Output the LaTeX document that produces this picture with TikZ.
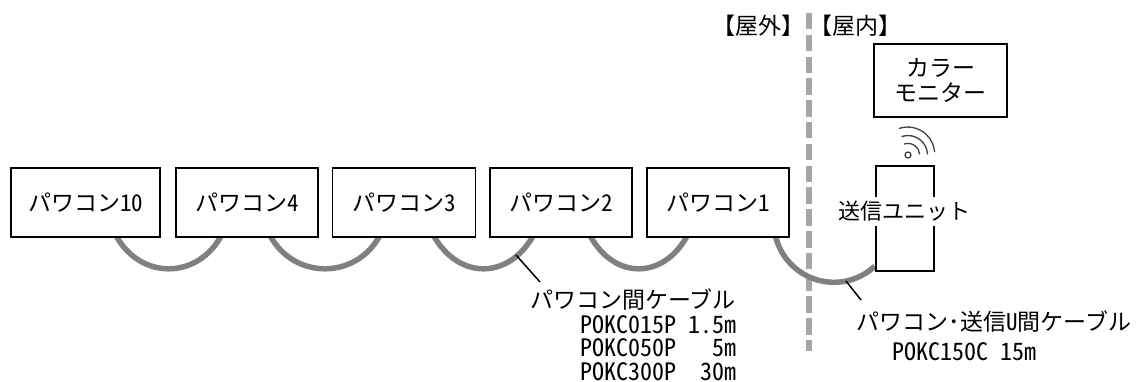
\documentclass[tikz,border=0pt]{standalone}
\usepackage{fontspec}
\setmainfont{Noto Sans CJK JP}[RawFeature={+hwid}]
\usetikzlibrary{calc,backgrounds}
\newcommand\hs{\hspace*{.5em}}
\newcommand\boxlbl[1]{\raisebox{1.5pt}{#1}}
\tikzset{
  x=1pt,y=-1pt,
  unitbox/.style={draw=black,line width=1.6pt,fill=white,inner sep=0pt,font=\fontsize{23}{25}\selectfont,align=center},
  cable/.style={draw=black!50,line width=5.5pt},
  leader/.style={draw=black,line width=1.5pt},
  boundary/.style={draw=black!35,line width=6pt,dash pattern=on 16.5pt off 5.3pt},
  jtext/.style={inner sep=0pt,font=\fontsize{23}{25}\selectfont,align=center},
  model/.style={inner sep=0pt,font=\fontsize{24}{23.5}\selectfont,align=left},
  wave/.style={draw=black!75,line width=1.3pt,line cap=round},
}
\begin{document}
\begin{tikzpicture}
\useasboundingbox (0,0) rectangle (1140,382);
\node[unitbox,minimum width=149pt,minimum height=69pt] (p10) at (85.5,202.5) {\boxlbl{パワコン10}};
\node[unitbox,minimum width=142pt,minimum height=69pt] (p4) at (247,202.5) {\boxlbl{パワコン4}};
\node[unitbox,minimum width=143pt,minimum height=69pt] (p3) at (404,202.5) {\boxlbl{パワコン3}};
\node[unitbox,minimum width=142pt,minimum height=69pt] (p2) at (561,202.5) {\boxlbl{パワコン2}};
\node[unitbox,minimum width=142pt,minimum height=69pt] (p1) at (718,202.5) {\boxlbl{パワコン1}};
\node[unitbox,minimum width=133pt,minimum height=73pt,font=\fontsize{23}{25}\selectfont] (mon) at (940.5,80.5) {カラー\\モニター};
\node[unitbox,minimum width=58pt,minimum height=105pt] (tx) at (905,218.5) {};
\node[jtext,fill=white,minimum height=29pt,font=\fontsize{22}{24}\selectfont] (txl) at (904,211.5) {送信ユニット};
\node[jtext] (outdoor) at (758,26) {【屋外】};
\node[jtext] (indoor) at (855,26) {【屋内】};
\node[jtext] (l1) at (633,299.5) {パワコン間ケーブル};
\node[model,anchor=north west] (m1) at (580,315) {POKC015P\hs1.5m\\POKC050P\hs\hs\hs5m\\POKC300P\hs\hs30m};
\node[jtext] (l2) at (994,321.5) {パワコン･送信U間ケーブル};
\node[model] (m2) at (964,352) {POKC150C\hs15m};
\coordinate (w) at (908,155);
\coordinate (b1) at (809,13);
\coordinate (b2) at (809,351);
\begin{scope}[on background layer]
\draw[boundary] (b1) -- (b2);
\foreach \a/\b/\xa/\xb/\d in {p10/p4/106/46/24,p4/p3/95/48/24,p3/p2/102/44/25,p2/p1/101/41/24}{
  \draw[cable] ($(\a.south west)+(\xa,-2)$) .. controls +(\d,44) and +(-\d,44) .. ($(\b.south west)+(\xb,-2)$);
}
\draw[cable] ($(p1.south west)+(129.5,-1)$) arc[start angle=166,end angle=47,radius=60];
\end{scope}
\coordinate (c1) at (516,255);
\coordinate (c1e) at (540,282);
\coordinate (c2) at (846,281);
\coordinate (c2e) at (861,300);
\draw[leader] (c1) -- (c1e);
\draw[leader] (c2) -- (c2e);
\draw[wave] (w) circle (3);
\draw[wave] ($(w)+(-108:11.6)$) arc[start angle=-108,end angle=-5,radius=11.6];
\draw[wave] ($(w)+(-108:19.5)$) arc[start angle=-108,end angle=-3,radius=19.5];
\draw[wave] ($(w)+(-108:28)$) arc[start angle=-108,end angle=-5,radius=27];
\end{tikzpicture}
\end{document}
